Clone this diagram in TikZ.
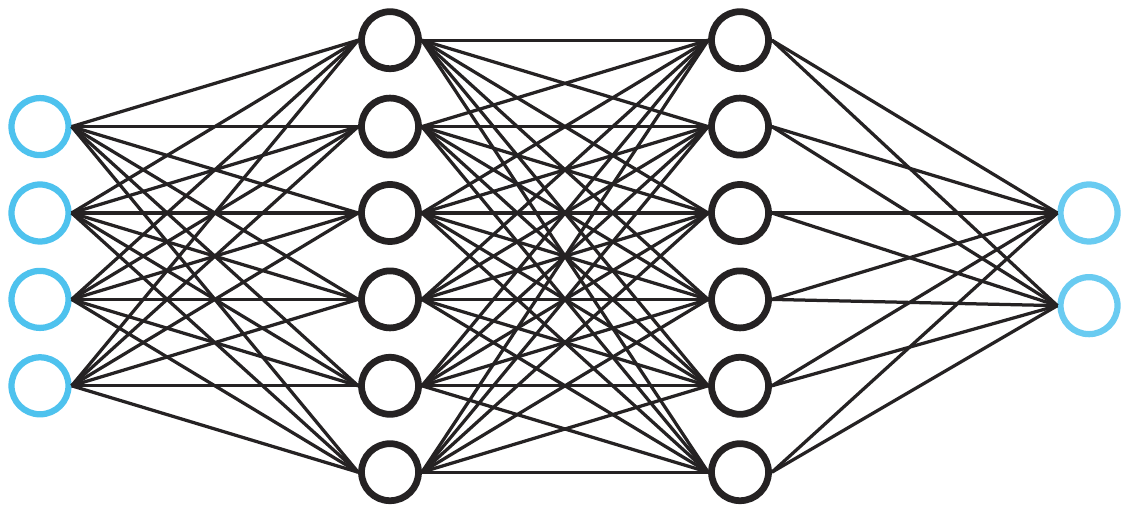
\documentclass[tikz,border=0pt]{standalone}
\usepackage{xcolor}
\usepackage{tikz}
\usetikzlibrary{positioning}

\definecolor{netblue}{HTML}{4EC2EE}
\definecolor{netdark}{HTML}{252223}

\tikzset{
    neuron/.style={circle, draw=netdark, fill=white, line width=0.135cm,
        minimum size=1.14cm, inner sep=0pt},
    inout/.style={neuron, draw=netblue, line width=0.125cm},
    synapse/.style={draw=netdark, line width=0.065cm}
}

\begin{document}
\begin{tikzpicture}
    \useasboundingbox (0,0) rectangle (22.5,10.28);

    % input layer
    \foreach \i/\y in {1/7.748, 2/6.02, 3/4.292, 4/2.564}
        \node[inout] (in\i) at (0.8,\y) {};
    % hidden layers
    \foreach \i/\y in {1/9.476, 2/7.748, 3/6.02, 4/4.292, 5/2.564, 6/0.836} {
        \node[neuron] (a\i) at (7.8,\y) {};
        \node[neuron] (b\i) at (14.8,\y) {};
    }
    % output layer
    \node[inout, draw=netblue!85] (out1) at (21.78,6.02) {};
    \node[inout, draw=netblue!85] (out2) [below=0.588cm of out1] {};

    % connections
    \foreach \i in {1,...,4}
        \foreach \j in {1,...,6}
            \path[synapse] (in\i.east) -- (a\j.west);
    \foreach \i in {1,...,6}
        \foreach \j in {1,...,6}
            \path[synapse] (a\i.east) -- (b\j.west);
    \foreach \i in {1,...,6}
        \foreach \j in {1,2}
            \path[synapse] (b\i.east) -- (out\j.west);
\end{tikzpicture}
\end{document}
